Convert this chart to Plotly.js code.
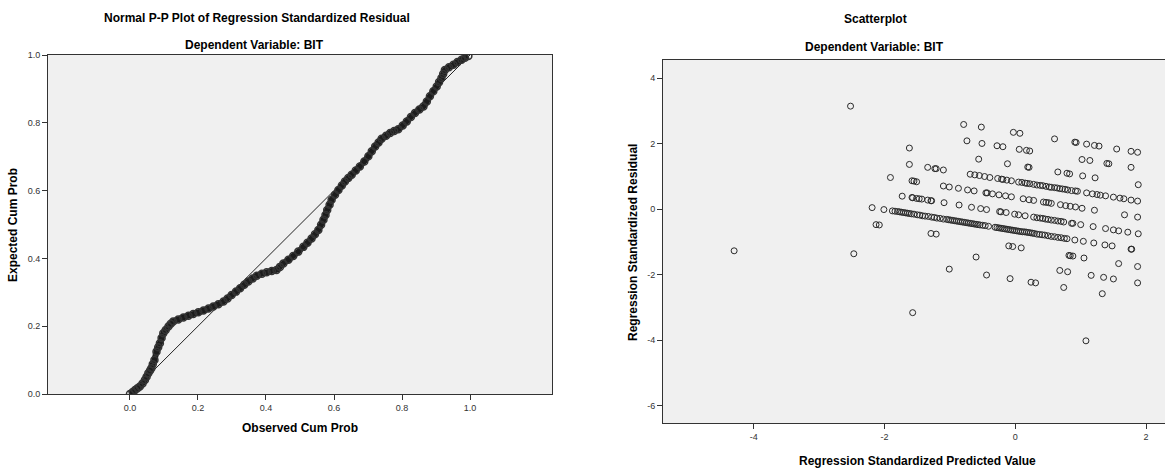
<!DOCTYPE html>
<html>
<head>
<meta charset="utf-8">
<script src="https://cdn.plot.ly/plotly-3.0.1.min.js"></script>
<style>
html,body{margin:0;padding:0;background:#fff;}
#chart{width:1165px;height:468px;}
</style>
</head>
<body>
<div id="chart"></div>
<script>
// ---- P-P plot data (Observed Cum Prob vs Expected Cum Prob) ----
var ppObserved = [0.000,0.008,0.015,0.022,0.029,0.037,0.044,0.049,0.054,0.059,0.063,0.067,0.072,0.078,0.083,0.088,0.093,0.098,0.105,0.113,0.120,0.127,0.142,0.157,0.172,0.186,0.201,0.216,0.231,0.245,0.260,0.275,0.287,0.299,0.312,0.324,0.336,0.348,0.361,0.373,0.388,0.402,0.417,0.431,0.441,0.451,0.466,0.480,0.495,0.510,0.522,0.534,0.544,0.554,0.562,0.569,0.575,0.580,0.587,0.593,0.603,0.613,0.623,0.632,0.642,0.652,0.664,0.676,0.689,0.701,0.711,0.721,0.731,0.740,0.753,0.765,0.777,0.789,0.802,0.814,0.826,0.838,0.851,0.863,0.873,0.882,0.892,0.902,0.909,0.916,0.921,0.926,0.938,0.951,0.963,0.975,0.985,0.995];
var ppExpected = [0.000,0.006,0.012,0.017,0.022,0.031,0.041,0.051,0.061,0.069,0.076,0.088,0.100,0.125,0.138,0.150,0.165,0.179,0.189,0.199,0.207,0.214,0.220,0.226,0.231,0.236,0.241,0.246,0.252,0.258,0.265,0.273,0.282,0.292,0.302,0.312,0.322,0.332,0.341,0.349,0.355,0.359,0.363,0.366,0.375,0.385,0.396,0.407,0.420,0.434,0.446,0.459,0.471,0.484,0.499,0.514,0.528,0.543,0.558,0.573,0.588,0.602,0.615,0.627,0.637,0.647,0.659,0.671,0.686,0.701,0.716,0.730,0.742,0.753,0.762,0.770,0.776,0.781,0.792,0.804,0.817,0.829,0.839,0.848,0.863,0.878,0.893,0.907,0.920,0.932,0.944,0.956,0.964,0.971,0.979,0.986,0.992,0.997];
var ppDiagonal = [0, 1];
var ppXTicks = [0, 0.2, 0.4, 0.6, 0.8, 1.0];
var ppYTicks = [0, 0.2, 0.4, 0.6, 0.8, 1.0];
var ppTickText = ['0.0', '0.2', '0.4', '0.6', '0.8', '1.0'];

// ---- Scatterplot data (Standardized Predicted Value vs Standardized Residual) ----
var predicted = [
 -2.52,-0.79,-0.52,-0.03,0.07,0.60,0.91,0.93,1.09,1.21,1.28,1.55,1.77,1.87,
 -0.74,-0.51,-0.28,-0.19,0.06,0.17,0.22,1.02,1.14,1.40,1.43,1.77,
 -1.62,-0.56,-0.12,0.19,0.21,0.65,0.79,0.83,1.03,1.22,1.88,
 -1.62,-1.34,-1.23,-1.21,-1.10,-0.69,-0.62,-0.55,-0.47,-0.39,-0.27,-0.21,-0.19,-0.13,-0.06,0.05,0.10,0.15,0.18,0.22,0.28,0.33,0.38,0.42,0.47,0.52,0.55,0.60,0.64,0.68,0.72,0.76,0.80,0.86,0.92,0.95,1.09,1.18,1.25,1.30,1.38,1.50,1.60,1.66,1.77,1.87,
 -1.91,-1.58,-1.55,-1.51,-1.10,-1.01,-0.87,-0.73,-0.63,-0.45,-0.43,-0.35,-0.25,-0.15,-0.06,0.12,0.21,0.28,0.43,0.47,0.51,0.55,0.69,0.77,0.84,0.92,1.02,1.21,1.67,1.87,
 -1.73,-1.58,-1.57,-1.51,-1.47,-1.43,-1.34,-1.29,-1.28,-1.09,-0.86,-0.67,-0.53,-0.44,-0.24,-0.22,-0.14,-0.01,0.05,0.15,0.28,0.33,0.38,0.42,0.46,0.50,0.55,0.60,0.65,0.70,0.74,0.86,0.88,1.00,1.19,1.38,1.50,1.58,1.72,1.88,
 -2.19,-2.01,-1.88,-1.84,-1.80,-1.77,-1.74,-1.71,-1.68,-1.65,-1.62,-1.59,-1.55,-1.50,-1.46,-1.42,-1.38,-1.33,-1.28,-1.24,-1.20,-1.15,-1.10,-1.05,-1.02,-0.99,-0.96,-0.93,-0.90,-0.87,-0.84,-0.81,-0.78,-0.75,-0.72,-0.69,-0.66,-0.63,-0.60,-0.57,-0.54,-0.50,-0.46,-0.41,-0.31,-0.28,-0.25,-0.22,-0.19,-0.16,-0.13,-0.10,-0.07,-0.04,-0.01,0.02,0.05,0.08,0.11,0.14,0.17,0.20,0.23,0.26,0.29,0.33,0.37,0.41,0.45,0.50,0.55,0.60,0.65,0.70,0.75,0.79,0.91,1.04,1.20,1.37,1.48,1.77,1.78,
 -2.13,-2.08,-1.29,-1.21,-0.10,-0.04,0.09,0.82,0.84,0.88,1.05,1.58,1.87,
 -0.60,0.68,0.80,1.16,1.35,1.50,1.87,
 -2.47,-1.01,-0.44,-0.08,0.24,0.31,0.74,1.33,
 -4.30,-1.57,1.08
];
var residual = [
 3.15,2.59,2.51,2.35,2.32,2.15,2.05,2.04,1.99,1.95,1.93,1.84,1.77,1.74,
 2.09,2.01,1.94,1.91,1.83,1.80,1.78,1.52,1.49,1.40,1.39,1.28,
 1.87,1.53,1.39,1.29,1.28,1.14,1.10,1.08,1.02,0.96,0.75,
 1.37,1.28,1.24,1.24,1.20,1.07,1.05,1.03,1.00,0.97,0.94,0.92,0.91,0.89,0.87,0.83,0.82,0.80,0.79,0.78,0.76,0.74,0.73,0.72,0.70,0.68,0.67,0.66,0.65,0.63,0.62,0.61,0.59,0.57,0.56,0.55,0.50,0.47,0.45,0.43,0.41,0.37,0.34,0.32,0.28,0.25,
 0.97,0.87,0.86,0.84,0.71,0.68,0.64,0.59,0.56,0.50,0.50,0.47,0.44,0.41,0.38,0.32,0.29,0.27,0.22,0.21,0.20,0.18,0.14,0.11,0.09,0.07,0.03,-0.03,-0.17,-0.24,
 0.40,0.36,0.35,0.33,0.32,0.31,0.28,0.26,0.26,0.20,0.13,0.06,0.02,-0.01,-0.07,-0.08,-0.10,-0.15,-0.17,-0.20,-0.24,-0.26,-0.27,-0.28,-0.30,-0.31,-0.33,-0.34,-0.36,-0.37,-0.39,-0.43,-0.43,-0.47,-0.53,-0.59,-0.63,-0.66,-0.70,-0.75,
 0.05,-0.01,-0.05,-0.06,-0.07,-0.08,-0.09,-0.10,-0.11,-0.12,-0.13,-0.14,-0.15,-0.17,-0.18,-0.20,-0.21,-0.22,-0.24,-0.25,-0.27,-0.28,-0.30,-0.31,-0.32,-0.33,-0.34,-0.35,-0.36,-0.37,-0.38,-0.39,-0.40,-0.41,-0.42,-0.43,-0.44,-0.45,-0.46,-0.47,-0.48,-0.49,-0.50,-0.52,-0.55,-0.56,-0.57,-0.58,-0.59,-0.60,-0.61,-0.62,-0.63,-0.64,-0.65,-0.66,-0.67,-0.68,-0.69,-0.69,-0.70,-0.71,-0.72,-0.73,-0.74,-0.76,-0.77,-0.78,-0.79,-0.81,-0.83,-0.84,-0.86,-0.87,-0.89,-0.90,-0.94,-0.98,-1.03,-1.09,-1.12,-1.22,-1.22,
 -0.47,-0.48,-0.74,-0.76,-1.12,-1.14,-1.18,-1.41,-1.42,-1.43,-1.49,-1.66,-1.75,
 -1.46,-1.87,-1.91,-2.02,-2.08,-2.13,-2.25,
 -1.36,-1.83,-2.01,-2.12,-2.23,-2.25,-2.39,-2.58,
 -1.27,-3.16,-4.02
];
var scXTicks = [-4, -2, 0, 2];
var scXTickText = ['-4', '-2', '0', '2'];
var scYTicks = [-6, -4, -2, 0, 2, 4];
var scYTickText = ['-6', '-4', '-2', '0', '2', '4'];

var FONT = 'Arial, "Liberation Sans", sans-serif';
var AX = '#333';

var traces = [
  {x: ppDiagonal, y: ppDiagonal, xaxis:'x', yaxis:'y', mode:'lines',
   line:{color:'#222', width:1}, hoverinfo:'skip', showlegend:false},
  {x: ppObserved, y: ppExpected, xaxis:'x', yaxis:'y', mode:'lines+markers',
   line:{color:'#1c1c1c', width:6, shape:'spline'},
   marker:{symbol:'circle-open', size:7, color:'#333', line:{width:1.5}},
   showlegend:false},
  {x: predicted, y: residual, xaxis:'x2', yaxis:'y2', mode:'markers',
   marker:{symbol:'circle-open', size:6, color:'#2a2a2a', line:{width:1}},
   showlegend:false}
];

function axisBase(){
  return {showgrid:false, zeroline:false, showline:true, linecolor:AX, linewidth:1,
    mirror:true, ticks:'outside', ticklen:5, tickwidth:1, tickcolor:AX,
    tickfont:{family:FONT, size:9, color:'#333'}, fixedrange:true};
}

var xa = Object.assign(axisBase(), {domain:[48/1165, 552/1165], range:[-0.241, 1.241],
  tickmode:'array', tickvals:ppXTicks, ticktext:ppTickText, anchor:'y'});
var ya = Object.assign(axisBase(), {domain:[74/468, 413/468], range:[0, 1],
  tickmode:'array', tickvals:ppYTicks, ticktext:ppTickText, anchor:'x'});
var xa2 = Object.assign(axisBase(), {domain:[663/1165, 1], range:[-5.388, 2.289],
  tickmode:'array', tickvals:scXTicks, ticktext:scXTickText, anchor:'y2'});
var ya2 = Object.assign(axisBase(), {domain:[44.7/468, 408/468], range:[-6.54, 4.56],
  tickmode:'array', tickvals:scYTicks, ticktext:scYTickText, anchor:'x2'});

function ann(text, xpx, ypx, size, angle){
  return {text:'<b>'+text+'</b>', x:xpx/1165, y:(468-ypx)/468, xref:'paper', yref:'paper',
    xanchor:'center', yanchor:'middle', showarrow:false, textangle:angle||0,
    font:{family:FONT, size:size, color:'#000'}};
}

var layout = {
  width:1165, height:468,
  margin:{l:0, r:0, t:0, b:0},
  paper_bgcolor:'#ffffff',
  plot_bgcolor:'#f0f0f0',
  showlegend:false,
  xaxis:xa, yaxis:ya, xaxis2:xa2, yaxis2:ya2,
  shapes:[
    {type:'rect', xref:'paper', yref:'paper', x0:48/1165, x1:552/1165, y0:74/468, y1:413/468,
     fillcolor:'#f0f0f0', line:{width:0}, layer:'below'},
    {type:'rect', xref:'paper', yref:'paper', x0:663/1165, x1:1, y0:44.7/468, y1:408/468,
     fillcolor:'#f0f0f0', line:{width:0}, layer:'below'}
  ],
  annotations:[
    ann('Normal P-P Plot of Regression Standardized Residual', 257, 18, 12),
    ann('Dependent Variable: BIT', 254, 45, 12),
    ann('Scatterplot', 875, 19, 12),
    ann('Dependent Variable: BIT', 874, 47.5, 12),
    ann('Observed Cum Prob', 300, 428, 12),
    ann('Expected Cum Prob', 13, 225, 12, -90),
    ann('Regression Standardized Residual', 633, 243, 12, -90),
    ann('Regression Standardized Predicted Value', 917, 460.5, 12)
  ]
};

Plotly.newPlot('chart', traces, layout, {displayModeBar:false, staticPlot:true});
</script>
</body>
</html>
